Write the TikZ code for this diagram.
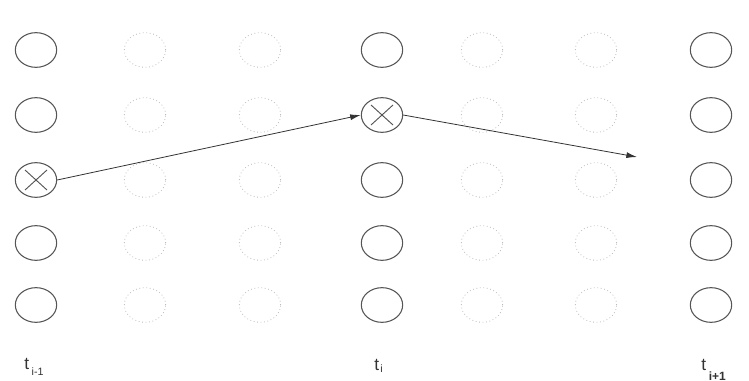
\documentclass[tikz,border=0pt]{standalone}
\usepackage{fontspec}
\setmainfont{Liberation Sans}
\usetikzlibrary{shapes.geometric,arrows.meta,calc}
\definecolor{maincirc}{HTML}{555555}
\definecolor{lightcirc}{HTML}{BBBBBB}
\definecolor{arrowcol}{HTML}{333333}
\begin{document}
\begin{tikzpicture}[x=0.75pt,y=-0.75pt,
  solidc/.style={ellipse,draw=maincirc,line width=0.8pt,minimum width=31pt,minimum height=26pt,inner sep=0pt},
  lightc/.style={ellipse,draw=lightcirc,line width=0.6pt,dotted,minimum width=31pt,minimum height=26pt,inner sep=0pt},
  conn/.style={draw=arrowcol,line width=0.6pt,-{Latex[length=8pt,width=4.5pt]}},
  crossline/.style={draw=maincirc,line width=0.7pt},
  lab/.style={font=\fontsize{13}{15}\selectfont,text=black!80,inner sep=0pt}]
\useasboundingbox (0,0) rectangle (749,381);
% columns: x positions
\foreach \c/\x/\s in {1/36/solidc,2/145/lightc,3/260/lightc,4/382/solidc,5/482/lightc,6/596/lightc,7/711/solidc}{
  \foreach \r/\y in {1/50,2/115,3/180,4/243,5/305}{
    \node[\s] (n\c\r) at (\x,\y) {};
  }
}
% crosses
\draw[crossline] ($(n13)+(-11,-10)$) -- ($(n13)+(11,10)$);
\draw[crossline] ($(n13)+(-11,10)$) -- ($(n13)+(11,-10)$);
\draw[crossline] ($(n42)+(-11,-10)$) -- ($(n42)+(11,10)$);
\draw[crossline] ($(n42)+(-11,10)$) -- ($(n42)+(11,-10)$);
% arrows
\coordinate (end2) at (637,157);
\draw[conn] (n13.east) -- (n42.west);
\draw[conn] (n42.east) -- (end2);
% labels
\node[lab,anchor=base west] (l1) at (24,369) {t\kern2pt\raisebox{-0.7ex}{\fontsize{8}{9}\selectfont i-1}};
\node[lab,anchor=base west] (l2) at (374,370) {t\kern1pt\raisebox{-0.3ex}{\fontsize{8}{9}\selectfont i}};
\node[lab,anchor=base west] (l3) at (701,370) {t\kern2pt\raisebox{-1.1ex}{\fontsize{9}{10}\selectfont\bfseries i+1}};
\end{tikzpicture}
\end{document}
